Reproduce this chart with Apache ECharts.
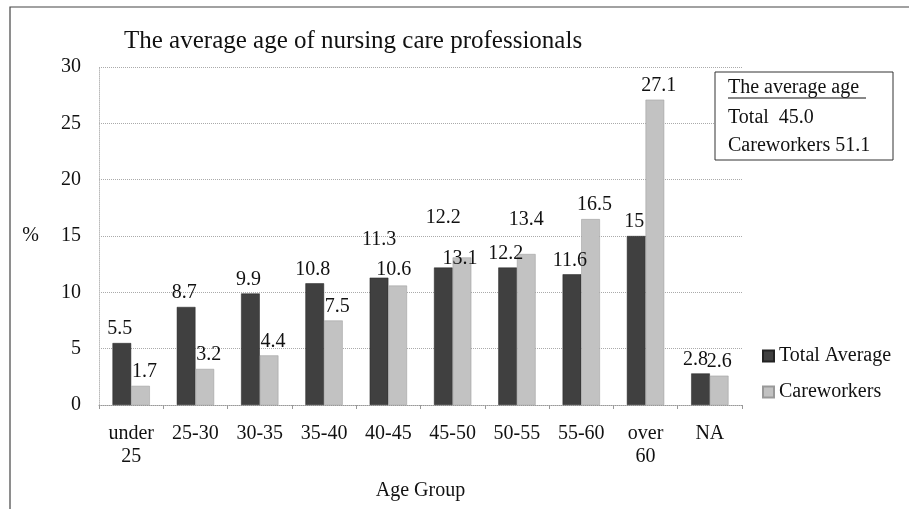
<!DOCTYPE html>
<html>
<head>
<meta charset="utf-8">
<script src="https://cdn.jsdelivr.net/npm/echarts@6/dist/echarts.min.js"></script>
<style>
  html, body { margin: 0; padding: 0; background: #fff; }
  #chart { width: 909px; height: 509px; }
</style>
</head>
<body>
<div id="chart"></div>
<script>
const categories = ['under\n25', '25-30', '30-35', '35-40', '40-45', '45-50', '50-55', '55-60', 'over\n60', 'NA'];
const totalAverage = [5.5, 8.7, 9.9, 10.8, 11.3, 12.2, 12.2, 11.6, 15, 2.8];
const careworkers = [1.7, 3.2, 4.4, 7.5, 10.6, 13.1, 13.4, 16.5, 27.1, 2.6];
const yTicks = [0, 5, 10, 15, 20, 25, 30];

const font = '"Liberation Serif", "DejaVu Serif", serif';

// labels that were moved by hand in the original chart (index -> offset)
const totalLabelShift = { 4: [0, -24], 5: [0, -36], 9: [-5, 0] };
const careLabelShift = { 4: [-4, -2], 5: [-2, 15], 6: [0, -20], 9: [0, 0] };

function withShift(values, shift) {
    return values.map((v, i) => shift[i] ? { value: v, label: { offset: shift[i] } } : v);
}

const chart = echarts.init(document.getElementById('chart'));
const option = {
    backgroundColor: '#fff',
    animation: false,
    textStyle: { fontFamily: font, color: '#111' },
    title: {
        text: 'The average age of nursing care professionals',
        left: 119, top: 24,
        textStyle: { fontFamily: font, fontSize: 25, fontWeight: 'normal', color: '#111' }
    },
    legend: {
        orient: 'vertical',
        left: 757, top: 341,
        itemWidth: 11, itemHeight: 11, itemGap: 16,
        icon: 'rect',
        textStyle: { fontFamily: font, fontSize: 20, color: '#111' },
        data: ['Total Average', 'Careworkers']
    },
    grid: { left: 99, right: 167, top: 67, bottom: 104 },
    xAxis: {
        type: 'category',
        data: categories,
        name: 'Age Group',
        nameLocation: 'middle',
        nameGap: 76,
        nameTextStyle: { fontFamily: font, fontSize: 20, color: '#111' },
        axisLine: { lineStyle: { color: '#999', type: 'dotted' } },
        axisTick: { show: true, lineStyle: { color: '#999' }, length: 4 },
        axisLabel: { fontFamily: font, fontSize: 20, color: '#111', margin: 17, lineHeight: 23, interval: 0 }
    },
    yAxis: {
        type: 'value',
        min: yTicks[0], max: yTicks[yTicks.length - 1], interval: 5,
        name: '%',
        nameLocation: 'middle',
        nameRotate: 0,
        nameGap: 60,
        nameTextStyle: { fontFamily: font, fontSize: 20, color: '#111' },
        axisLine: { show: true, lineStyle: { color: '#bbb', type: 'dotted' } },
        axisTick: { show: false },
        axisLabel: { fontFamily: font, fontSize: 20, color: '#111', margin: 18 },
        splitLine: { lineStyle: { color: '#aaa', type: 'dotted' } }
    },
    series: [
        {
            name: 'Total Average',
            type: 'bar',
            data: withShift(totalAverage, totalLabelShift),
            barGap: '0%',
            barCategoryGap: '42%',
            itemStyle: { color: '#404040', borderColor: '#222', borderWidth: 0.5 },
            label: { show: true, position: 'top', distance: 4, offset: [-2, 0], fontFamily: font, fontSize: 20, color: '#111' }
        },
        {
            name: 'Careworkers',
            type: 'bar',
            data: withShift(careworkers, careLabelShift),
            itemStyle: { color: '#c2c2c2', borderColor: '#999', borderWidth: 0.5 },
            label: { show: true, position: 'top', distance: 4, offset: [4, 0], fontFamily: font, fontSize: 20, color: '#111' }
        }
    ],
    graphic: [
        {
            type: 'rect', silent: true, z: -10,
            shape: { x: 10, y: 7, width: 910, height: 520 },
            style: { fill: 'none', stroke: '#444', lineWidth: 1.2 }
        },
        {
            type: 'rect', z: 100,
            shape: { x: 715, y: 72, width: 178, height: 88 },
            style: { fill: '#fff', stroke: '#333', lineWidth: 1 }
        },
        {
            type: 'text', z: 101,
            style: { x: 728, y: 88, verticalAlign: 'middle', text: 'The average age', font: '20px ' + font, fill: '#111' }
        },
        {
            type: 'line', z: 101,
            shape: { x1: 728, y1: 98, x2: 866, y2: 98 },
            style: { stroke: '#111', lineWidth: 1 }
        },
        {
            type: 'text', z: 101,
            style: { x: 728, y: 118, verticalAlign: 'middle', text: 'Total  45.0', font: '20px ' + font, fill: '#111' }
        },
        {
            type: 'text', z: 101,
            style: { x: 728, y: 146, verticalAlign: 'middle', text: 'Careworkers 51.1', font: '20px ' + font, fill: '#111' }
        }
    ]
};
option && chart.setOption(option);
</script>
</body>
</html>
